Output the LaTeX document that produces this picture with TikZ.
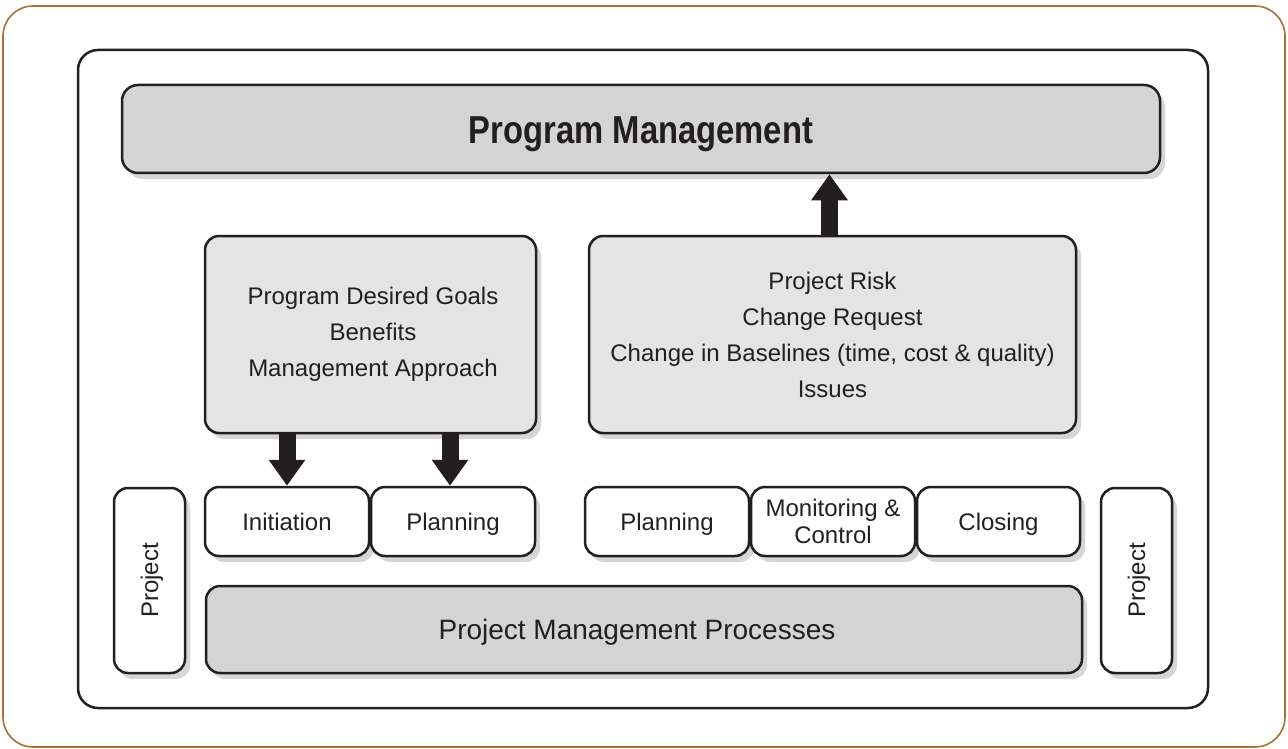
\documentclass[tikz,border=0pt]{standalone}
\usepackage{fontspec}
\setmainfont{Liberation Sans}
\newfontfamily\titlefont[FakeStretch=0.84]{Liberation Sans}
\usetikzlibrary{arrows.meta,shadows}
\definecolor{frameorange}{RGB}{168,112,52}
\definecolor{ink}{RGB}{35,31,32}
\definecolor{boxgrey}{RGB}{212,212,212}
\definecolor{boxlight}{RGB}{228,228,228}
\definecolor{shadowgrey}{RGB}{214,214,214}
\tikzset{
  stage/.style={
    draw=ink,
    line width=2.5pt,
    rounded corners=14pt,
    fill=white,
    text=ink,
    font=\fontsize{24}{36}\selectfont,
    align=center,
    inner sep=0pt,
    drop shadow={shadow xshift=5pt, shadow yshift=-6pt, fill=shadowgrey, opacity=1},
  },
  phase/.style={stage, minimum width=164pt, minimum height=69pt},
  oneline/.style={text height=17pt, text depth=0pt},
  bigarrow/.style={draw=ink, line width=17pt, -{Triangle[width=35pt,length=26pt]}},
}

\begin{document}
\begin{tikzpicture}[x=1pt,y=-1pt]
  \useasboundingbox (0,0) rectangle (1288,749);

  % Frames
  \draw[frameorange, line width=1.6pt, rounded corners=30pt] (3,6) rectangle (1285,747);
  \draw[ink, line width=2.5pt, rounded corners=20pt] (78,50) rectangle (1208,708);

  % Top box
  \node[stage, fill=boxgrey, rounded corners=16pt, minimum width=1038pt, minimum height=88pt,
        text height=28pt, text depth=0pt,
        font=\titlefont\bfseries\fontsize{39}{39}\selectfont] (pm) at (641,129) {Program Management};

  % Middle boxes
  \node[stage, fill=boxlight, minimum width=331pt, minimum height=197pt] (goals) at (370.5,334.5)
    {\hspace*{5pt}Program Desired Goals\\\hspace*{5pt}Benefits\\\hspace*{5pt}Management Approach};
  \node[stage, fill=boxlight, minimum width=487pt, minimum height=197pt] (risk) at (832.5,334.5)
    {Project Risk\\Change Request\\Change in Baselines (time, cost \& quality)\\Issues};

  % Process groups
  \node[phase, oneline] (init) at (287,521.5) {Initiation};
  \node[phase, oneline] (plan) at (453,521.5) {Planning};
  \node[phase, oneline] (replan) at (667,521.5) {Planning};
  \node[phase, font=\fontsize{24}{27}\selectfont] (monitor) at (833,521.5) {Monitoring \&\\Control};
  \node[phase, oneline, minimum width=163pt] (closing) at (998.5,521.5) {Closing};

  % Bottom
  \node[stage, fill=boxgrey, minimum width=876pt, minimum height=87pt, text height=20pt, text depth=0pt,
        font=\fontsize{28}{28}\selectfont] (pmp) at (644,629.5)
    {Project Management Processes\hspace*{14pt}};
  \node[stage, oneline, minimum width=185pt, minimum height=71pt, rotate=90] (projleft) at (149.5,580.5) {Project};
  \node[stage, oneline, minimum width=185pt, minimum height=71pt, rotate=90] (projright) at (1136.5,580.5) {Project};

  % Arrows
  \draw[bigarrow] (init.north |- goals.south) -- (init.north);
  \draw[bigarrow] ([xshift=-3pt]plan.north |- goals.south) -- ([xshift=-3pt]plan.north);
  \draw[bigarrow] ([xshift=-3pt]risk.north) -- ([xshift=-3pt]risk.north |- pm.south);
\end{tikzpicture}
\end{document}
